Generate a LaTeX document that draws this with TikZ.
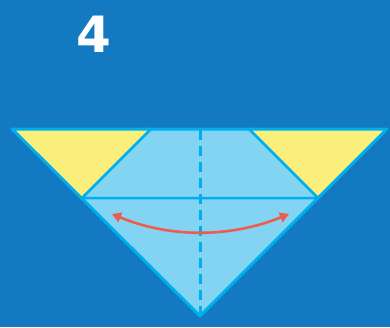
\documentclass[tikz,border=0pt]{standalone}
\usepackage{fontspec}
\setmainfont{Liberation Sans}
\newfontfamily\numfont{DejaVu Sans}
\usetikzlibrary{arrows.meta,calc}

\definecolor{bgblue}{RGB}{19,121,192}
\definecolor{paper}{RGB}{131,212,243}
\definecolor{edge}{RGB}{0,174,239}
\definecolor{flap}{RGB}{250,239,122}
\definecolor{arrowred}{RGB}{238,92,76}

\begin{document}
\begin{tikzpicture}[x=1pt,y=-1pt,line join=round]
  % background
  \fill[bgblue] (0,0) rectangle (390,327);
  \useasboundingbox (0,0) rectangle (390,327);
  % step number
  \node[text=white,font=\numfont\fontsize{50}{50}\selectfont\bfseries] (num) at (94,34) {4};
  % folded paper
  \coordinate (tl) at (12,129);
  \coordinate (tr) at (387,129);
  \coordinate (bot) at (200,316);
  \coordinate (ml) at (82,198);
  \coordinate (mr) at (318,198);
  \coordinate (il) at (152,128);
  \coordinate (ir) at (248,128);
  \fill[paper] (tl) -- (tr) -- (bot) -- cycle;
  \fill[flap] (tl) -- (il) -- (ml) -- cycle;
  \fill[flap] (ir) -- (tr) -- (mr) -- cycle;
  \draw[edge,line width=3pt] (tl) -- (tr) -- (bot) -- cycle;
  \draw[edge,line width=2.5pt] (il) -- (ml) -- (mr) -- (ir);
  \draw[edge,line width=3pt,dash pattern=on 10pt off 6pt] (200,130) -- (bot);
  % swing arrow
  \draw[arrowred,line width=2.6pt,{Triangle[length=9pt,width=10pt]}-{Triangle[length=9pt,width=10pt]}]
    (112,214) .. controls (170,238) and (230,238) .. (289,214);
\end{tikzpicture}
\end{document}
